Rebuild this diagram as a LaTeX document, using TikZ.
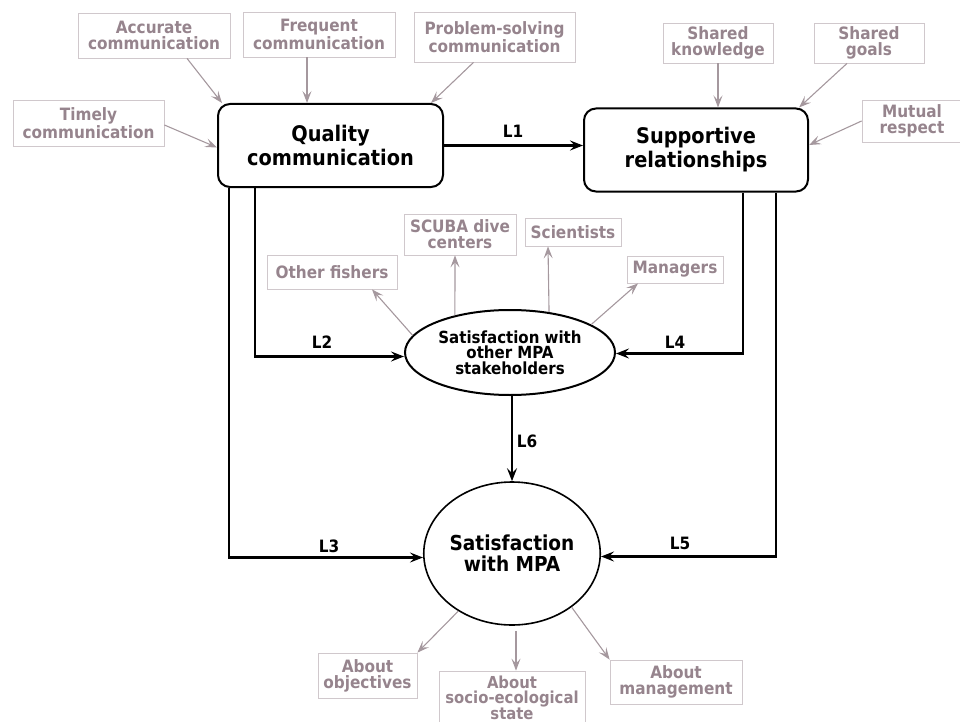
\documentclass[tikz,border=0pt]{standalone}
\usepackage{fontspec}
\setmainfont{DejaVu Sans Condensed}
\usetikzlibrary{arrows.meta,shapes.geometric}
\definecolor{gtext}{RGB}{150,132,141}
\definecolor{gline}{RGB}{208,200,204}
\definecolor{garrow}{RGB}{165,152,158}
\tikzset{
  gbox/.style={draw=gline, line width=0.8pt, text=gtext, align=center, inner sep=0pt,
    font=\bfseries\fontsize{17}{16}\selectfont},
  mainbox/.style={draw, line width=2pt, rounded corners=12pt, align=center, inner sep=0pt,
    font=\bfseries\fontsize{21.5}{24}\selectfont},
  garr/.style={draw=garrow, line width=1.1pt, -{Stealth[length=12pt,width=9pt,inset=5pt]}},
  barr/.style={draw=black, line width=2.2pt, -{Stealth[length=13pt,width=10pt,inset=5pt]}},
  lab/.style={font=\bfseries\fontsize{17}{17}\selectfont, inner sep=0pt}
}
\begin{document}
\begin{tikzpicture}[x=1pt,y=-1pt]
\useasboundingbox (0,0) rectangle (960,722);
\clip (0,0) rectangle (960,722);

% top-left indicator boxes
\node[gbox, minimum width=152, minimum height=45] (acc) at (154,35.5) {Accurate\\communication};
\node[gbox, minimum width=152, minimum height=45] (freq) at (319,34.5) {Frequent\\communication};
\node[gbox, minimum width=161, minimum height=50] (prob) at (494.5,37) {Problem-solving\\communication};
\node[gbox, minimum width=151, minimum height=46] (timely) at (88.5,123) {Timely\\communication};

% main boxes
\node[mainbox, minimum width=225, minimum height=83] (qual) at (330.5,145.5) {Quality\\communication};
\node[mainbox, minimum width=224, minimum height=83] (supp) at (696,150) {Supportive\\relationships};

% top-right indicator boxes
\node[gbox, minimum width=110, minimum height=40] (sk) at (718,43) {Shared\\knowledge};
\node[gbox, minimum width=110, minimum height=40] (sg) at (869,43) {Shared\\goals};
\node[gbox, minimum width=100, minimum height=42] (mr) at (912,121) {Mutual\\respect};

% stakeholder boxes
\node[gbox, minimum width=130, minimum height=34] (fish) at (332,272) {Other fishers};
\node[gbox, minimum width=112, minimum height=41] (scuba) at (460,234.5) {SCUBA dive\\centers};
\node[gbox, minimum width=96, minimum height=28] (sci) at (573,232) {Scientists};
\node[gbox, minimum width=96, minimum height=27] (man) at (675,269.5) {Managers};

% ellipses
\node[ellipse, draw, line width=2pt, minimum width=210, minimum height=85, inner sep=0pt, align=center,
  font=\bfseries\fontsize{16.7}{15.5}\selectfont] (stake) at (510,352.5) {Satisfaction with\\other MPA\\stakeholders};
\node[ellipse, draw, line width=1.6pt, minimum width=161, minimum height=143, inner sep=0pt, align=center,
  font=\bfseries\fontsize{20.6}{21}\selectfont] (mpa) at (512,553.5) {Satisfaction\\with MPA};

% bottom boxes
\node[gbox, minimum width=99, minimum height=45] (obj) at (367.5,675.5) {About\\objectives};
\node[gbox, minimum width=146, minimum height=53, font=\bfseries\fontsize{16.5}{15.5}\selectfont] (socio) at (512,697.5) {About\\socio-ecological\\state};
\node[gbox, minimum width=132, minimum height=44] (mgmt) at (676,682) {About\\management};

% grey arrows into Quality communication
\draw[garr] ([xshift=33pt]acc.south) -- ([xshift=5pt]qual.north west);
\draw[garr] ([xshift=-12pt]freq.south) -- ([xshift=-12pt]freq.south |- qual.north);
\draw[garr] ([xshift=-21pt]prob.south) -- ([xshift=-13pt]qual.north east);
\draw[garr] ([yshift=-2pt]timely.east) -- ([yshift=-2pt]qual.west);

% grey arrows into Supportive relationships
\draw[garr] (sk.south) -- (sk.south |- supp.north);
\draw[garr] ([xshift=-22pt]sg.south) -- ([xshift=-10pt]supp.north east);
\draw[garr] (mr.west) -- ([yshift=5pt]supp.east);

% grey arrows out of stakeholder satisfaction
\draw[garr] (stake.170) -- ([xshift=40pt]fish.south);
\draw[garr] (stake.146.6) -- ([xshift=-5pt]scuba.south);
\draw[garr] (stake.46.2) -- ([xshift=-25pt]sci.south);
\draw[garr] (stake.19) -- ([xshift=-37pt]man.south);

% grey arrows out of MPA satisfaction
\draw[garr] (mpa.-133.7) -- (obj.north east);
\draw[garr] ([xshift=4pt,yshift=-5pt]mpa.south) -- ([xshift=4pt]socio.north);
\draw[garr] (mpa.-42.2) -- (mgmt.north west);

% black paths
\draw[barr] (qual.east) -- (qual.east -| supp.west);
\draw[barr] ([xshift=38pt]qual.south west) |- ([yshift=-4pt]stake.west);
\draw[barr] ([xshift=12pt]qual.south west) |- ([yshift=-4pt]mpa.west);
\draw[barr] ([xshift=160pt]supp.south west) |- ([yshift=-1pt]stake.east);
\draw[barr] ([xshift=193pt]supp.south west) |- ([yshift=-3pt]mpa.east);
\draw[barr] (mpa.north |- stake.south) -- (mpa.north);

% labels
\node[lab] (l1) at (513,131) {L1};
\node[lab] (l2) at (322,342) {L2};
\node[lab] (l3) at (329,546) {L3};
\node[lab] (l4) at (675,342) {L4};
\node[lab] (l5) at (680,543) {L5};
\node[lab] (l6) at (527,441) {L6};
\end{tikzpicture}
\end{document}
